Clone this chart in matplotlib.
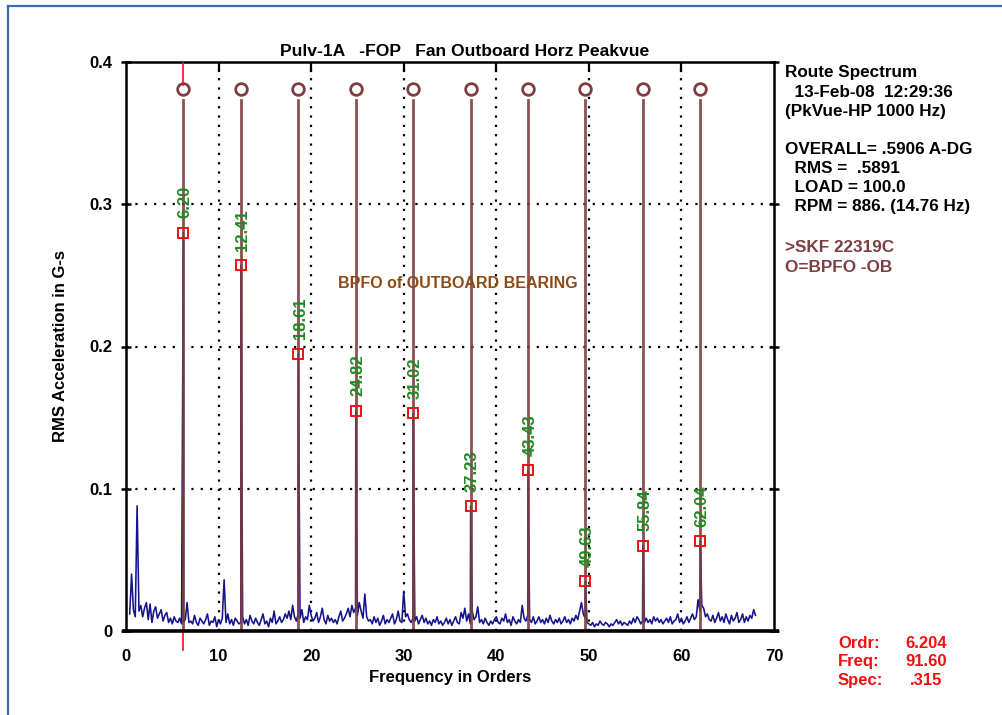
import numpy as np
import matplotlib
matplotlib.use("Agg")
import matplotlib.pyplot as plt
from matplotlib.lines import Line2D

# ---- data -------------------------------------------------------------
# background spectrum, milli-g, sampled every 0.2 orders starting at 0.4
noise_start = 0.4
noise_step = 0.2
noise_mg = [
    12, 40, 15, 10, 88, 14, 18, 10, 16, 20,
    8, 19, 6, 14, 17, 9, 12, 15, 7, 11,
    13, 6, 9, 5, 10, 7, 6, 9, 5, 6,
    8, 20, 6, 7, 5, 11, 6, 4, 9, 7,
    5, 8, 12, 4, 7, 6, 10, 3, 8, 5,
    9, 36, 6, 12, 5, 8, 4, 9, 7, 5,
    6, 10, 5, 8, 4, 11, 7, 5, 9, 6,
    4, 8, 12, 5, 7, 3, 9, 6, 14, 5,
    7, 10, 6, 8, 12, 9, 14, 8, 18, 10,
    7, 12, 9, 15, 6, 10, 8, 18, 11, 7,
    9, 13, 6, 10, 16, 8, 5, 11, 7, 9,
    6, 8, 5, 10, 14, 7, 9, 12, 16, 10,
    18, 13, 16, 11, 20, 14, 9, 26, 10, 7,
    8, 5, 10, 6, 9, 4, 7, 11, 5, 8,
    6, 9, 12, 5, 8, 14, 7, 6, 28, 10,
    12, 8, 6, 9, 7, 10, 5, 8, 11, 6,
    9, 5, 7, 4, 8, 6, 10, 5, 7, 4,
    6, 9, 5, 8, 4, 7, 10, 6, 5, 13,
    9, 16, 7, 12, 5, 14, 8, 10, 17, 6,
    8, 5, 9, 6, 4, 7, 5, 8, 10, 6,
    5, 9, 7, 12, 6, 8, 4, 10, 7, 5,
    8, 6, 18, 9, 7, 11, 8, 6, 10, 5,
    7, 10, 6, 8, 5, 9, 6, 11, 7, 5,
    8, 6, 9, 5, 7, 10, 6, 8, 5, 9,
    7, 11, 8, 14, 20, 12, 9, 6, 5, 4,
    6, 3, 5, 4, 7, 5, 4, 6, 5, 3,
    5, 4, 6, 8, 5, 7, 4, 6, 5, 4,
    7, 5, 9, 6, 10, 8, 5, 7, 6, 9,
    6, 8, 5, 10, 7, 9, 6, 8, 5, 7,
    9, 6, 10, 5, 7, 8, 12, 6, 9, 5,
    7, 10, 6, 9, 12, 8, 10, 22, 14, 18,
    16, 10, 12, 8, 7, 11, 6, 9, 13, 7,
    10, 6, 12, 8, 5, 11, 7, 9, 13, 6,
    8, 12, 6, 10, 7, 11, 9, 15, 11,
]

# BPFO harmonics of the outboard bearing and their peak amplitudes (G-s)
peak_orders = [6.20, 12.41, 18.61, 24.82, 31.02, 37.23, 43.43, 49.63, 55.84, 62.04]
peak_labels = ["6.20", "12.41", "18.61", "24.82", "31.02",
               "37.23", "43.43", "49.63", "55.84", "62.04"]
peak_values = [0.280, 0.257, 0.195, 0.155, 0.153, 0.088, 0.113, 0.035, 0.060, 0.063]

x_ticks = [0, 10, 20, 30, 40, 50, 60, 70]
y_ticks = [0, 0.1, 0.2, 0.3, 0.4]
y_tick_labels = ["0", "0.1", "0.2", "0.3", "0.4"]

cursor_order = 6.204
info_lines = [
    "Route Spectrum",
    "  13-Feb-08  12:29:36",
    "(PkVue-HP 1000 Hz)",
    "",
    "OVERALL= .5906 A-DG",
    "  RMS =  .5891",
    "  LOAD = 100.0",
    "  RPM = 886. (14.76 Hz)",
]
fault_lines = [">SKF 22319C", "O=BPFO -OB"]
cursor_keys = ["Ordr:", "Freq:", "Spec:"]
cursor_vals = ["6.204", "91.60", ".315"]

# ---- style ------------------------------------------------------------
plt.rcParams["font.family"] = ["Liberation Sans", "DejaVu Sans"]
W, H = 1003, 715
fig = plt.figure(figsize=(W / 100, H / 100), dpi=100)
fig.patch.set_facecolor("white")

def fx(px):
    return px / W

def fy(py):
    return 1 - py / H

ax = fig.add_axes([fx(126), fy(631), fx(774) - fx(126), fy(62) - fy(631)])
ax.set_xlim(0, 70)
ax.set_ylim(0, 0.4)

BROWN = "#7E3E40"
NAVY = "#14148C"
GREEN = "#1F8A1F"
RED = "#F01010"
TXT_BROWN = "#8C4A14"

# dotted grid
dot = (0, (1, 3.2))
for gx in x_ticks[1:-1]:
    ax.axvline(gx, color="black", lw=1.6, ls=dot, zorder=1)
for gy in y_ticks[1:-1]:
    ax.axhline(gy, color="black", lw=1.6, ls=dot, zorder=1)

# spectrum: background plus the harmonic peaks
nx = noise_start + noise_step * np.arange(len(noise_mg))
ny = np.array(noise_mg) / 1000.0
sx = np.concatenate([nx, peak_orders])
sy = np.concatenate([ny, peak_values])
order = np.argsort(sx)
ax.plot(sx[order], sy[order], color=NAVY, lw=1.15, zorder=2)

# harmonic cursor lines with ring markers
for po in peak_orders:
    ax.plot([po, po], [0.002, 0.373], color=BROWN, lw=2.0, alpha=0.9, zorder=3)
    ax.plot([po], [0.381], marker="o", ms=8.4, mfc="white", mec=BROWN,
            mew=2.0, zorder=4)

# peak markers and labels
for po, pv, lab in zip(peak_orders, peak_values, peak_labels):
    ax.plot([po], [pv], marker="s", ms=6.5, mfc="none", mec=RED, mew=1.4, zorder=5)
    ax.text(po + 0.2, pv + 0.0100, lab, rotation=90, color=GREEN,
            ha="center", va="bottom", fontsize=12, fontweight="bold", zorder=5)

# active cursor at the first harmonic
ax.plot([cursor_order, cursor_order], [0.384, 0.4], color=RED, lw=1.2, zorder=5)
ax.plot([cursor_order, cursor_order], [0, -0.0135], color=RED, lw=1.2,
        zorder=5, clip_on=False)

ax.text(22.9, 0.2446, "BPFO of OUTBOARD BEARING",
        color=TXT_BROWN, fontsize=11.5, fontweight="bold", ha="left", va="center",
        zorder=6)

# frame
for s in ["top", "left", "right"]:
    ax.spines[s].set_linewidth(1.8)
ax.spines["bottom"].set_visible(False)
ax.plot([-0.45, 70.5], [0, 0], color="black", lw=2.6, clip_on=False,
        solid_capstyle="butt", zorder=6)

ax.set_xticks(x_ticks)
ax.set_xticklabels([str(t) for t in x_ticks], fontsize=12, fontweight="bold")
ax.tick_params(axis="x", length=0, pad=13)
ax.set_yticks(y_ticks)
ax.set_yticklabels(y_tick_labels, fontsize=12, fontweight="bold")
ax.tick_params(axis="y", direction="inout", length=7, width=1.8, pad=6,
               right=True, labelright=False)

# short inward ticks along the top edge
for gx in x_ticks[1:-1]:
    ax.plot([gx, gx], [0.4, 0.394], color="black", lw=1.6, zorder=6)

ax.set_xlabel("Frequency in Orders", fontsize=12, fontweight="bold", labelpad=4)
ax.set_ylabel("RMS Acceleration in G-s", fontsize=12, fontweight="bold", labelpad=16)

fig.text(fx(465), fy(51), "Pulv-1A   -FOP   Fan Outboard Horz Peakvue",
         ha="center", va="center", fontsize=12.6, fontweight="bold")

# info block on the right
y0 = 73
for i, line in enumerate(info_lines):
    if line:
        fig.text(fx(785), fy(y0 + i * 19.1), line, ha="left", va="center",
                 fontsize=12.3, fontweight="bold")
for i, line in enumerate(fault_lines):
    fig.text(fx(785), fy(248 + i * 19.5), line, ha="left", va="center",
             fontsize=12.3, fontweight="bold", color=BROWN)

for i, (k, v) in enumerate(zip(cursor_keys, cursor_vals)):
    yy = 643 + i * 18.7
    fig.text(fx(838), fy(yy), k, ha="left", va="center", fontsize=12,
             fontweight="bold", color=RED)
    fig.text(fx(947 if i < 2 else 942), fy(yy), v, ha="right", va="center",
             fontsize=12, fontweight="bold", color=RED)

# outer blue border
BORDER = "#3A6DB0"
fig.add_artist(Line2D([fx(8), fx(8)], [fy(6), 0], color=BORDER, lw=1.6))
fig.add_artist(Line2D([fx(8), 1], [fy(6), fy(6)], color=BORDER, lw=1.6))

fig.savefig("out.png", dpi=100, facecolor="white")
